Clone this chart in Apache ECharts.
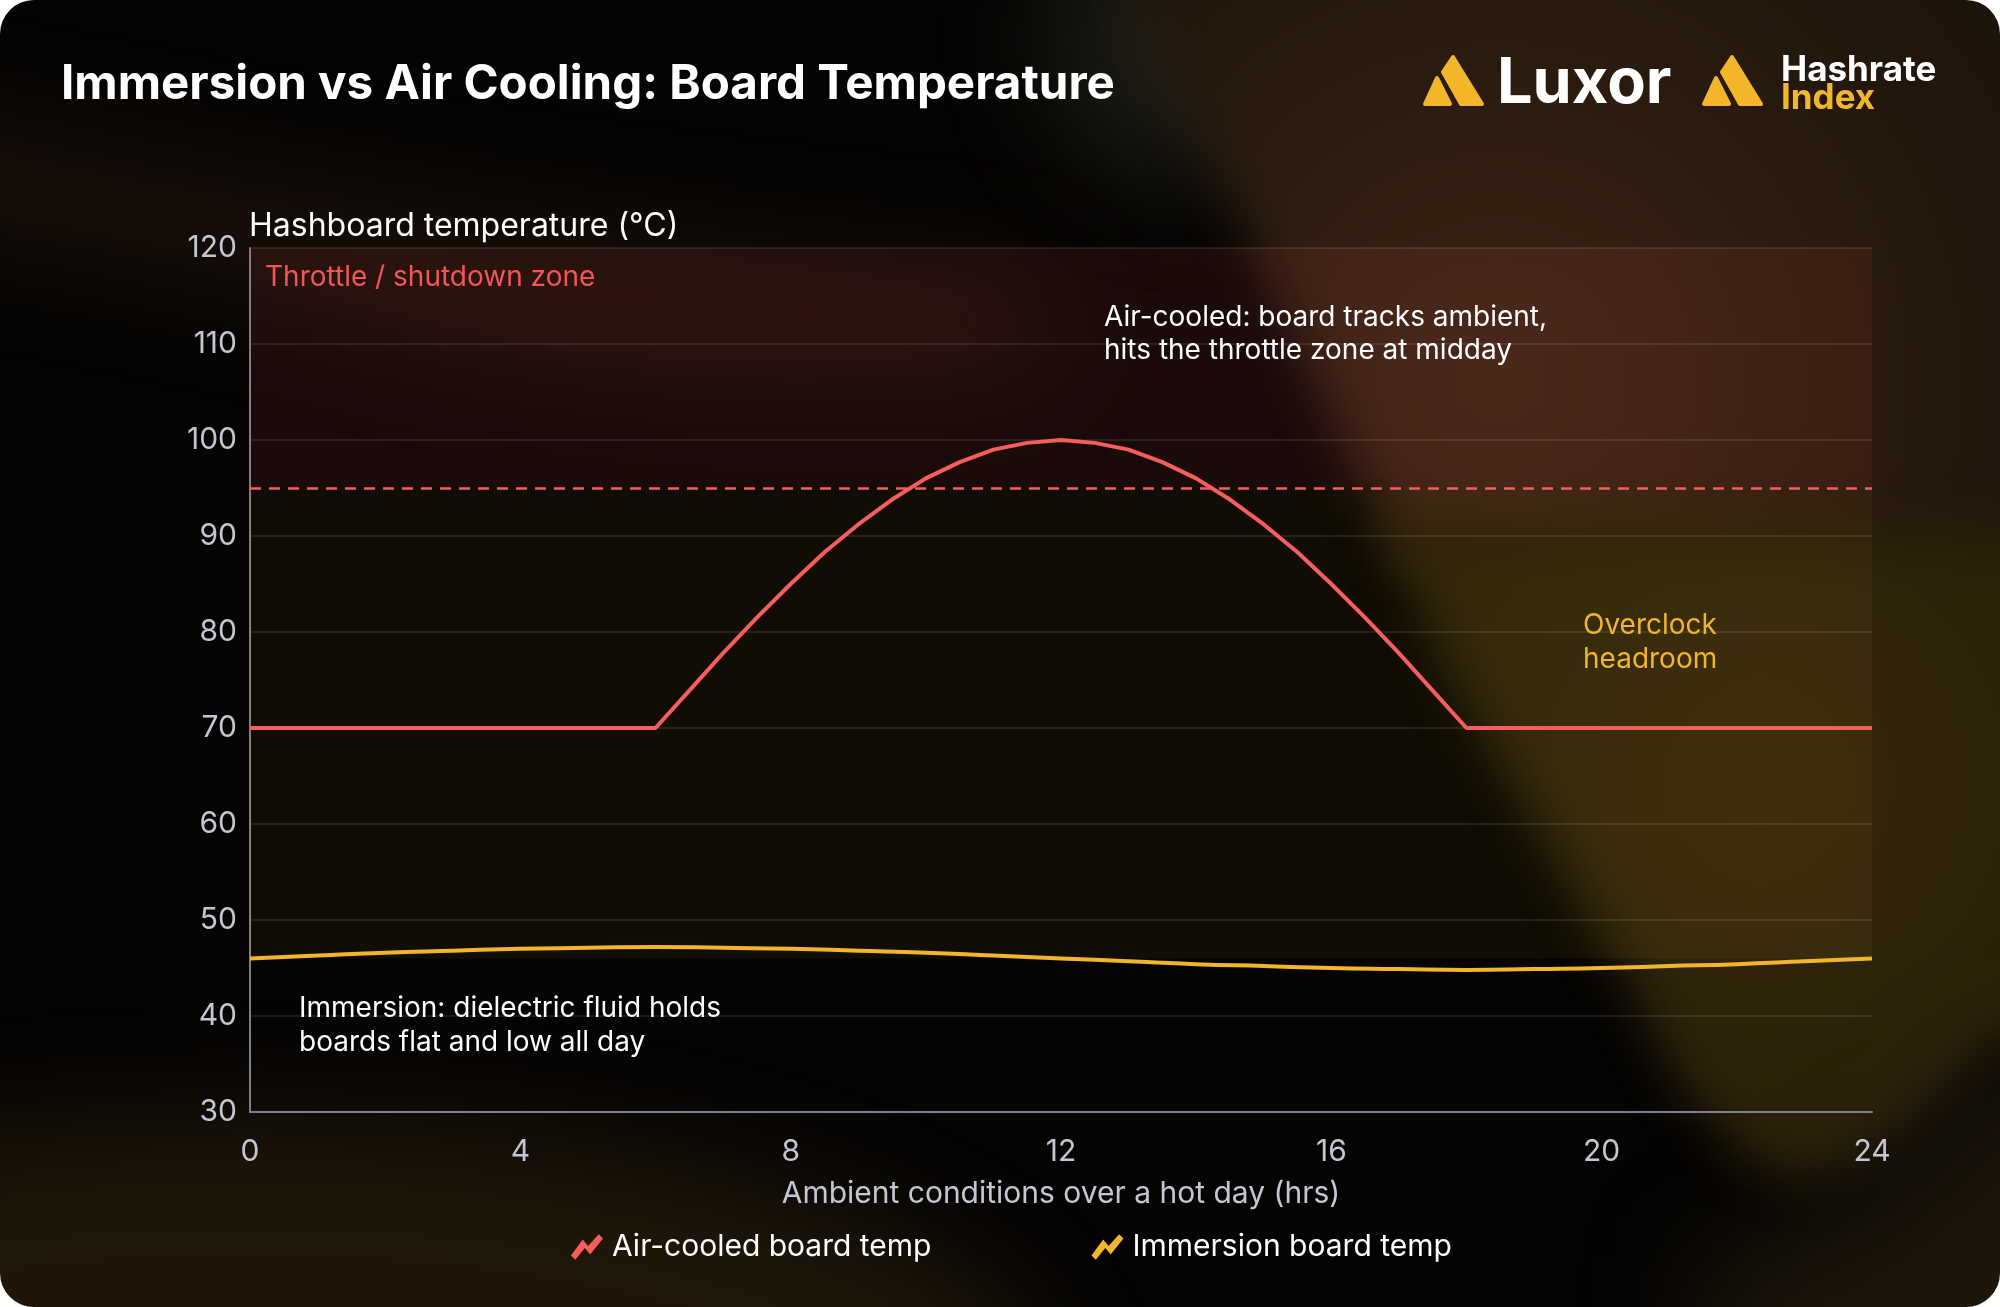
<!DOCTYPE html>
<html>
<head>
<meta charset="utf-8">
<script src="https://cdn.jsdelivr.net/npm/echarts@6/dist/echarts.min.js"></script>
<style>
  html, body { margin: 0; padding: 0; background: #ffffff; }
  #wrap {
    width: 2000px; height: 1307px; border-radius: 34px; overflow: hidden; position: relative;
    background-color: #050403;
  }
  #chart { width: 2000px; height: 1307px; }
</style>
</head>
<body>
<div id="wrap"><div id="chart"></div></div>
<script>
// 数据
const airHours = [0, 6, 6.5, 7, 7.5, 8, 8.5, 9, 9.5, 10, 10.5, 11, 11.5, 12, 12.5, 13, 13.5, 14, 14.5, 15, 15.5, 16, 16.5, 17, 17.5, 18, 24];
const airTemp = [70, 70, 73.9, 77.8, 81.5, 85, 88.3, 91.2, 93.8, 96, 97.7, 99, 99.7, 100, 99.7, 99, 97.7, 96, 93.8, 91.2, 88.3, 85, 81.5, 77.8, 73.9, 70, 70];
const immersionHours = [0, 1, 2, 3, 4, 5, 6, 7, 8, 9, 10, 11, 12, 13, 14, 15, 16, 17, 18, 19, 20, 21, 22, 23, 24];
const immersionTemp = [46.0, 46.3, 46.6, 46.8, 47.0, 47.1, 47.2, 47.1, 47.0, 46.8, 46.6, 46.3, 46.0, 45.7, 45.4, 45.2, 45.0, 44.9, 44.8, 44.9, 45.0, 45.2, 45.4, 45.7, 46.0];
const throttleZone = [95, 120];
const headroomZone = [46, 95];
const throttleLine = 95;
const seriesNames = ['Air-cooled board temp', 'Immersion board temp'];

const RED = '#f65d5d';
const GOLD = '#f3b62b';
const LABEL = '#c3c7d1';
const FONT = 'Inter, "Noto Sans", sans-serif';

// 背景光晕（形状超出画布，避免模糊边缘变暗）
const bgSvg =
    "<svg xmlns='http://www.w3.org/2000/svg' width='2000' height='1307'>" +
    "<defs>" +
    "<filter id='b' x='-50%' y='-50%' width='200%' height='200%' color-interpolation-filters='sRGB'><feGaussianBlur stdDeviation='24'/></filter>" +
    "<filter id='w' x='-50%' y='-50%' width='200%' height='200%' color-interpolation-filters='sRGB'><feGaussianBlur stdDeviation='55'/></filter>" +
    "<radialGradient id='br' cx='1500' cy='380' r='700' gradientUnits='userSpaceOnUse'>" +
    "<stop offset='0' stop-color='#3b2416'/><stop offset='0.6' stop-color='#25180d'/><stop offset='1' stop-color='#1a1309'/></radialGradient>" +
    "<radialGradient id='gd' cx='1760' cy='780' r='520' gradientUnits='userSpaceOnUse'>" +
    "<stop offset='0' stop-color='#34280c'/><stop offset='1' stop-color='#261d09'/></radialGradient>" +
    "</defs>" +
    "<rect width='2000' height='1307' fill='#050403'/>" +
    "<ellipse cx='250' cy='1400' rx='800' ry='280' fill='#2a1f0c' opacity='0.7' filter='url(#w)'/>" +
    "<path d='M-200,90 Q500,240 1050,280 L1050,360 Q700,400 383,320 Q150,255 -200,210 Z' fill='#2e1b10' opacity='0.55' filter='url(#w)'/>" +
    "<ellipse cx='1190' cy='40' rx='140' ry='140' fill='#24231b' opacity='0.8' filter='url(#w)'/>" +
    "<path d='M1110,-300 L2300,-300 L2300,560 L1400,560 L1134,0 Z' fill='url(#br)' filter='url(#b)'/>" +
    "<path d='M1390,530 L2300,530 L2300,1000 L2000,1042 Q1880,1190 1791,1183 Q1700,1150 1638,1000 L1446,667 Z' fill='url(#gd)' filter='url(#b)'/>" +
    "<path d='M1700,1260 Q1870,1230 2000,1065 L2300,1000 L2300,1600 L1700,1600 Z' fill='#1c160b' filter='url(#w)'/>" +
    "</svg>";
document.getElementById('wrap').style.backgroundImage = 'url("data:image/svg+xml,' + encodeURIComponent(bgSvg) + '")';

let myChart = echarts.init(document.getElementById('chart'));

function pairs(xs, ys) {
    return xs.map((x, i) => [x, ys[i]]);
}

// 图标三角
function logoIcon(dx) {
    return [
        {
            type: 'polygon',
            shape: { points: [[1453 + dx, 57], [1482 + dx, 104], [1461 + dx, 104], [1443 + dx, 72]] },
            style: { fill: GOLD, stroke: GOLD, lineWidth: 4, lineJoin: 'round' }
        },
        {
            type: 'polygon',
            shape: { points: [[1437 + dx, 78], [1450 + dx, 104], [1425 + dx, 104]] },
            style: { fill: GOLD, stroke: GOLD, lineWidth: 4, lineJoin: 'round' }
        }
    ];
}

let option = {
    backgroundColor: 'transparent',
    textStyle: { fontFamily: FONT },
    grid: { left: 250, right: 128, top: 248, bottom: 195 },
    legend: {
        left: 566,
        top: 1227,
        itemWidth: 32,
        itemHeight: 26,
        itemGap: 160,
        icon: 'path://M0,20 L11,5 L16,11 L26,0 L30,4 L18,19 L13,13 L4,24 Z',
        textStyle: { color: '#ffffff', fontSize: 30, fontFamily: FONT, padding: [0, 0, 0, 4] },
        data: seriesNames
    },
    xAxis: {
        type: 'value',
        min: 0,
        max: 24,
        interval: 4,
        name: 'Ambient conditions over a hot day (hrs)',
        nameLocation: 'middle',
        nameGap: 67,
        nameTextStyle: { color: LABEL, fontSize: 30, fontFamily: FONT },
        axisLine: { show: true, lineStyle: { color: '#7d808a', width: 2 } },
        axisTick: { show: false },
        axisLabel: { color: LABEL, fontSize: 30, margin: 25, fontFamily: FONT },
        splitLine: { show: false }
    },
    yAxis: {
        type: 'value',
        min: 30,
        max: 120,
        interval: 10,
        axisLine: { show: true, lineStyle: { color: '#7d808a', width: 2 } },
        axisTick: { show: false },
        axisLabel: { color: LABEL, fontSize: 30, margin: 13, fontFamily: FONT },
        splitLine: { show: true, lineStyle: { color: 'rgba(255,255,255,0.13)', width: 1.5 } }
    },
    series: [
        {
            name: seriesNames[0],
            type: 'line',
            symbol: 'none',
            color: RED,
            lineStyle: { color: RED, width: 4 },
            data: pairs(airHours, airTemp),
            z: 5,
            markArea: {
                silent: true,
                data: [
                    [{ yAxis: throttleZone[0], itemStyle: { color: 'rgba(246,93,93,0.09)' } }, { yAxis: throttleZone[1] }],
                    [{ yAxis: headroomZone[0], itemStyle: { color: 'rgba(243,182,43,0.055)' } }, { yAxis: headroomZone[1] }]
                ]
            },
            markLine: {
                silent: true,
                symbol: 'none',
                label: { show: false },
                lineStyle: { color: RED, width: 2.5, type: [11, 8] },
                data: [{ yAxis: throttleLine }]
            }
        },
        {
            name: seriesNames[1],
            type: 'line',
            symbol: 'none',
            smooth: true,
            color: GOLD,
            lineStyle: { color: GOLD, width: 4 },
            data: pairs(immersionHours, immersionTemp),
            z: 5
        }
    ],
    graphic: [
        { type: 'text', x: 61, y: 85, style: { text: 'Immersion vs Air Cooling: Board Temperature', fill: '#ffffff', font: '700 47.5px ' + FONT, textVerticalAlign: 'middle' } },
        { type: 'text', x: 249, y: 226, style: { text: 'Hashboard temperature (°C)', fill: '#ffffff', font: '400 32px ' + FONT, textVerticalAlign: 'middle' } },
        { type: 'text', x: 265, y: 278, z: 10, style: { text: 'Throttle / shutdown zone', fill: '#f25757', font: '400 28px ' + FONT, textVerticalAlign: 'middle' } },
        { type: 'text', x: 1104, y: 301, z: 10, style: { text: 'Air-cooled: board tracks ambient,\nhits the throttle zone at midday', fill: '#ffffff', font: '400 28px ' + FONT, lineHeight: 33, textVerticalAlign: 'top' } },
        { type: 'text', x: 1583, y: 609, z: 10, style: { text: 'Overclock\nheadroom', fill: GOLD, font: '400 28px ' + FONT, lineHeight: 34, textVerticalAlign: 'top' } },
        { type: 'text', x: 299, y: 992, z: 10, style: { text: 'Immersion: dielectric fluid holds\nboards flat and low all day', fill: '#ffffff', font: '400 28px ' + FONT, lineHeight: 34, textVerticalAlign: 'top' } },
        ...logoIcon(0),
        { type: 'text', x: 1497, y: 84, style: { text: 'Luxor', fill: '#ffffff', font: '700 63px ' + FONT, textVerticalAlign: 'middle' } },
        ...logoIcon(279),
        { type: 'text', x: 1781, y: 70, style: { text: 'Hashrate', fill: '#ffffff', font: '700 35px ' + FONT, textVerticalAlign: 'middle' } },
        { type: 'text', x: 1781, y: 98, style: { text: 'Index', fill: GOLD, font: '700 35px ' + FONT, textVerticalAlign: 'middle' } }
    ]
};

myChart.setOption(option);
</script>
</body>
</html>
